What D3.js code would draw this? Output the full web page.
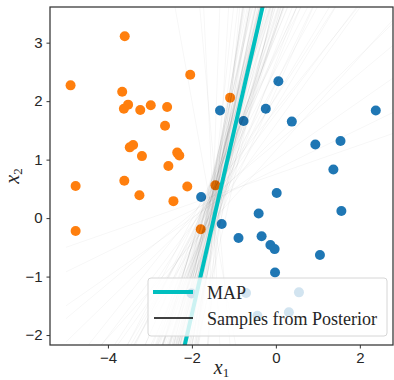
<!DOCTYPE html>
<html>
<head>
<meta charset="utf-8">
<script src="https://cdn.jsdelivr.net/npm/d3@7"></script>
<style>
  body { margin: 0; background: #fff; }
  svg { display: block; font-family: "Liberation Serif", "DejaVu Serif", serif; }
  .tick text { font-size: 15px; fill: #262626; }
</style>
</head>
<body>
<div id="chart"></div>
<script>
// class 0 (orange) and class 1 (blue) points
const orangeX1 = [-4.89, -3.60, -2.04, -3.66, -3.52, -3.62, -3.23, -2.98, -2.59, -2.64, -3.40, -3.48, -3.19,
                  -2.35, -2.30, -2.56, -4.77, -3.61, -2.11, -1.09, -1.44, -3.25, -2.44, -4.77, -1.79];
const orangeX2 = [2.27, 3.11, 2.45, 2.16, 1.94, 1.87, 1.85, 1.93, 1.90, 1.58, 1.25, 1.21, 1.06,
                  1.12, 1.07, 0.89, 0.55, 0.64, 0.54, 2.06, 0.56, 0.39, 0.29, -0.22, -0.19];
const blueX1 = [0.06, -1.33, -0.77, -0.24, 0.38, 2.38, 0.94, 1.54, 1.37, 0.02, -1.78, -0.41, 1.56,
                -1.29, -0.89, -0.34, -0.13, -0.03, 1.05, -0.02, -0.71, 0.55, 0.31, -0.44, -2.01];
const blueX2 = [2.34, 1.84, 1.66, 1.87, 1.65, 1.84, 1.26, 1.32, 0.83, 0.43, 0.36, 0.08, 0.12,
                -0.10, -0.34, -0.31, -0.46, -0.53, -0.63, -0.93, -1.28, -1.27, -1.61, -1.67, -1.29];

// decision boundaries x2 = slope * x1 + intercept
const mapSlope = 3.12;
const mapIntercept = 4.60;
const sampleSlopes = [3.1, 2.9, 3.4, 2.6, 2.2, 3.8, 4.3, 2.0, 1.7, 2.4, 1.5, 5.5, 3.0, 2.7, 1.3, 1.1, 0.9, 7.5,
                      3.5, 2.3, 1.9, 0.7, 0.5, 12, -15, -4, 2.8, 3.2, 2.5, 1.6, 4.8, 2.1, 1.4, 1.0, 0.35, 0.8,
                      3.6, 6.5, 2.6, 1.8, 0.6, 2.9, 2.2, -8, 4.0, 1.2, 0.25, 20, 3.3, 2.4,
                      3.0, 2.7, 3.3, 2.5, 2.8, 3.6, 2.3, 4.0, 2.1, 3.1, 2.6, 4.5, 1.9, 3.4, 2.4, 2.9, 5.0,
                      2.2, 3.2, 1.8, 2.7, 3.7, 2.0, 3.0, 2.5, 4.2, 1.6, 2.8, 3.5, 2.3, 1.4, 2.6, 3.9, 2.1,
                      3.3, 1.2, 2.9, 6.0, 2.4, 1.7, 3.1, 2.2, 0.95, 2.7, 3.4, 2.0, 1.5, 4.6, 2.5, 3.0];
const sampleIntercepts = [4.64, 4.75, 4.62, 4.2, 3.92, 5.24, 6.42, 3.5, 3.12, 3.32, 2.85, 8.0, 4.9, 3.74, 2.32,
                          2.06, 1.85, 10.05, 5.75, 3.22, 2.67, 1.38, 1.0, 17.1, -22.2, -6.0, 4.52, 3.84, 4.55,
                          2.18, 7.4, 3.24, 2.78, 1.6, 0.83, 1.16, 6.06, 10.15, 3.88, 2.9, 1.28, 3.78, 3.46,
                          -10.9, 5.2, 1.9, 0.75, 30.3, 5.15, 4.34,
                          4.70, 4.50, 4.71, 4.13, 4.64, 5.44, 4.0, 6.1, 3.39, 4.53, 4.36, 6.43, 3.25, 5.7,
                          3.63, 4.26, 7.45, 3.76, 5.14, 3.12, 3.95, 5.8, 3.2, 5.25, 3.65, 6.8, 2.82, 4.66,
                          4.88, 3.31, 2.55, 3.99, 6.45, 3.86, 5.19, 2.08, 4.6, 9.05, 4.32, 2.6, 5.36, 3.44,
                          1.78, 4.67, 5.26, 3.25, 2.3, 7.2, 4.33, 4.45];
const lineX1Range = [-5, 3];

const xTicks = [-4, -2, 0, 2];
const yTicks = [-2, -1, 0, 1, 2, 3];
const legendLabels = ["MAP", "Samples from Posterior"];

const width = 394, height = 380;
const margin = {top: 7, right: 1, bottom: 35, left: 50};

const x = d3.scaleLinear().domain([-5.38, 2.79]).range([margin.left, width - margin.right]);
const y = d3.scaleLinear().domain([-2.17, 3.61]).range([height - margin.bottom, margin.top]);

const svg = d3.select("#chart").append("svg")
  .attr("width", width)
  .attr("height", height);

svg.append("clipPath").attr("id", "plot-clip")
  .append("rect")
  .attr("x", x.range()[0]).attr("y", y.range()[1])
  .attr("width", x.range()[1] - x.range()[0])
  .attr("height", y.range()[0] - y.range()[1]);

const plot = svg.append("g").attr("clip-path", "url(#plot-clip)");

// scatter
const orange = orangeX1.map((v, i) => ({x1: v, x2: orangeX2[i]}));
const blue = blueX1.map((v, i) => ({x1: v, x2: blueX2[i]}));

plot.selectAll(".pt-o").data(orange).join("circle")
  .attr("cx", d => x(d.x1)).attr("cy", d => y(d.x2))
  .attr("r", 5).attr("fill", "#ff7f0e");
plot.selectAll(".pt-b").data(blue).join("circle")
  .attr("cx", d => x(d.x1)).attr("cy", d => y(d.x2))
  .attr("r", 5).attr("fill", "#1f77b4");

// posterior samples
const line = d3.line().x(d => x(d[0])).y(d => y(d[1]));
const samples = sampleSlopes.map((m, i) => lineX1Range.map(v => [v, m * v + sampleIntercepts[i]]));

plot.selectAll(".sample").data(samples).join("path")
  .attr("d", line)
  .attr("fill", "none")
  .attr("stroke", "#000")
  .attr("stroke-opacity", 0.035)
  .attr("stroke-width", 1);

// MAP boundary
plot.append("path")
  .datum(lineX1Range.map(v => [v, mapSlope * v + mapIntercept]))
  .attr("d", line)
  .attr("fill", "none")
  .attr("stroke", "#00bfbf")
  .attr("stroke-width", 4);

// axes
const xAxis = svg.append("g")
  .attr("transform", `translate(0,${y.range()[0]})`)
  .call(d3.axisBottom(x).tickValues(xTicks).tickSize(3.5).tickPadding(4)
    .tickFormat(d => d < 0 ? "\u2212" + Math.abs(d) : d));
const yAxis = svg.append("g")
  .attr("transform", `translate(${x.range()[0]},0)`)
  .call(d3.axisLeft(y).tickValues(yTicks).tickSize(3.5).tickPadding(4)
    .tickFormat(d => d < 0 ? "\u2212" + Math.abs(d) : d));
[xAxis, yAxis].forEach(g => {
  g.select(".domain").remove();
  g.selectAll(".tick line").attr("stroke", "#333").attr("stroke-width", 1);
});

// frame
svg.append("rect")
  .attr("x", x.range()[0]).attr("y", y.range()[1])
  .attr("width", x.range()[1] - x.range()[0])
  .attr("height", y.range()[0] - y.range()[1])
  .attr("fill", "none")
  .attr("stroke", "#333")
  .attr("stroke-width", 1.25);

// axis labels
const xl = svg.append("text")
  .attr("x", (x.range()[0] + x.range()[1]) / 2).attr("y", 374)
  .attr("text-anchor", "middle")
  .attr("font-size", 20).attr("fill", "#262626");
xl.append("tspan").attr("font-style", "italic").text("x");
xl.append("tspan").attr("font-size", 13).attr("dy", 3).text("1");

const yl = svg.append("text")
  .attr("transform", `translate(19,${(y.range()[0] + y.range()[1]) / 2}) rotate(-90)`)
  .attr("text-anchor", "middle")
  .attr("font-size", 20).attr("fill", "#262626");
yl.append("tspan").attr("font-style", "italic").text("x");
yl.append("tspan").attr("font-size", 13).attr("dy", 3).text("2");

// legend
const lg = svg.append("g").attr("transform", "translate(148,278)");
lg.append("rect")
  .attr("width", 239).attr("height", 58).attr("rx", 3)
  .attr("fill", "#fff").attr("fill-opacity", 0.8)
  .attr("stroke", "#d6d6d6").attr("stroke-width", 1);
lg.append("line").attr("x1", 5).attr("x2", 45).attr("y1", 14).attr("y2", 14)
  .attr("stroke", "#00bfbf").attr("stroke-width", 4);
lg.append("line").attr("x1", 6).attr("x2", 45).attr("y1", 40).attr("y2", 40)
  .attr("stroke", "#000").attr("stroke-width", 1.5);
lg.selectAll(".lbl").data(legendLabels).join("text")
  .attr("x", 59).attr("y", (d, i) => 21 + i * 26)
  .attr("font-size", 18).attr("fill", "#262626")
  .text(d => d);
</script>
</body>
</html>
